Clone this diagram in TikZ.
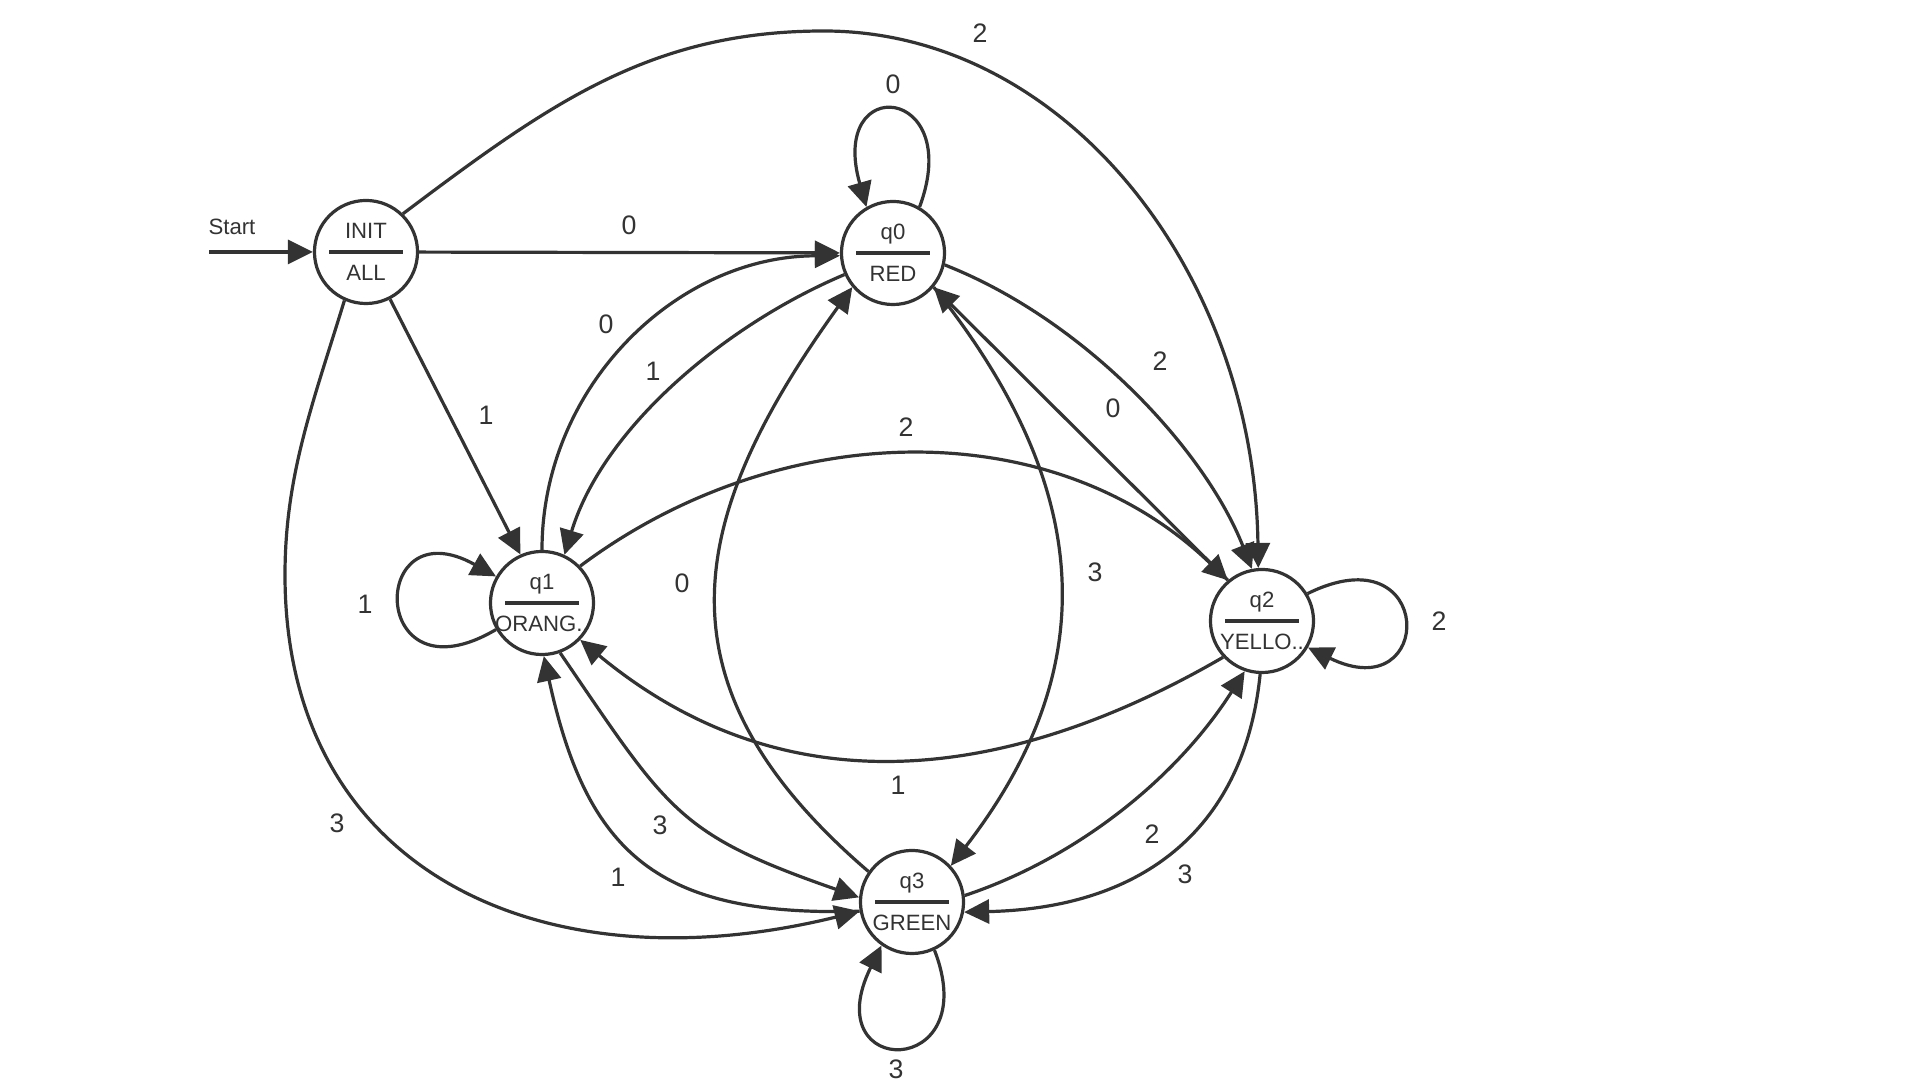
\documentclass[tikz,border=0pt]{standalone}
\usepackage{fontspec}
\setmainfont{Liberation Sans}
\usepackage{tikz}
\usetikzlibrary{arrows.meta,calc}
\definecolor{ink}{HTML}{333333}

\tikzset{
  state/.style={circle, draw=ink, fill=white, line width=0.032cm, minimum size=1.03cm, inner sep=0pt},
  divider/.style={draw=ink, line width=0.032cm},
  stxt/.style={text=ink, font=\fontsize{6.3}{7}\selectfont, inner sep=0pt, anchor=base},
  lbl/.style={text=ink, font=\fontsize{7.6}{9}\selectfont, inner sep=0pt},
  trans/.style={draw=ink, line width=0.032cm, -{Triangle[length=0.25cm,width=0.24cm]}},
}

% a state: name, x, y, upper text, lower text
\newcommand{\fsmstate}[5]{%
  \node[state] (#1) at (#2,#3) {};
  \draw[divider] ($(#1)+(-37,0)$) -- ($(#1)+(37,0)$);
  \node[stxt] (#1-up) at ($(#1)+(0,-13)$) {#4};
  \node[stxt] (#1-dn) at ($(#1)+(0,29)$) {#5};
}

\begin{document}
\begin{tikzpicture}[x=0.01cm,y=-0.01cm]
    \useasboundingbox (0,0) rectangle (1920,1080);

%the states
    \fsmstate{init}{366}{252}{INIT}{ALL}
    \fsmstate{q0}{893}{253}{q0}{RED}
    \fsmstate{q1}{542}{603}{q1}{ORANG..}
    \fsmstate{q2}{1262}{621}{q2}{YELLO..}
    \fsmstate{q3}{912}{902}{q3}{GREEN}

%the start arrow
    \coordinate (start) at (209,252);
    \node[stxt, anchor=center] (starttxt) at (232,227) {Start};
    \draw[trans] (start) -- (init);

%out of INIT
    \draw[trans] (init) -- (q0);
    \draw[trans] (init.297) -- (q1.114);
    \draw[trans] (init.46) .. controls (549,104) and (650,31) .. (824,31) .. controls (1064,31) and (1254,271) .. (q2.94);
    \draw[trans] (init.246) .. controls (313,403) and (285,475) .. (285,575) .. controls (285,870) and (540,990) .. (q3.190);

%the loops
    \draw[trans] (q0.60) .. controls (965,85) and (828,72) .. (q0.120);
    \draw[trans] (q1.210) .. controls (368,705) and (368,505) .. (q1.150);
    \draw[trans] (q2.31) .. controls (1436,530) and (1436,710) .. (q2.330);
    \draw[trans] (q3.295) .. controls (985,1080) and (815,1080) .. (q3.235);

%between the colours
    \draw[trans] (q1.90) .. controls (542,388) and (675,256) .. (q0.183);
    \draw[trans] (q0.204) .. controls (725,325) and (603,428) .. (q1.65);
    \draw[trans] (q3.145) .. controls (650,684) and (686,518) .. (q0.220);
    \draw[trans] (q0.320) .. controls (1092,485) and (1106,665) .. (q3.43);
    \draw[trans] (q0.347) .. controls (1085,320) and (1205,450) .. (q2.101);
    \draw[trans] (q2.130) -- (q0.320);
    \draw[trans] (q1.44) .. controls (778,418) and (1052,411) .. (q2.130);
    \draw[trans] (q2.223) .. controls (1029,770) and (799,821) .. (q1.316);
    \draw[trans] (q1.290) .. controls (669,812) and (677,834) .. (q3.175);
    \draw[trans] (q3.190) .. controls (658,917) and (587,854) .. (q1.272);
    \draw[trans] (q3.7) .. controls (1080,857) and (1178,776) .. (q2.251);
    \draw[trans] (q2.268) .. controls (1245,825) and (1147,908) .. (q3.349);

%the inputs
    \foreach \nm/\x/\y/\t in {init-q0/629/225/0, init-q2/980/33/2, init-q1/486/415/1, init-q3/337/823/3,
        q0-q0/893/84/0, q1-q0/606/324/0, q0-q1/653/371/1, q3-q0/682/583/0, q0-q3/1095/572/3,
        q0-q2/1160/361/2, q2-q0/1113/408/0, q1-q2/906/427/2, q2-q1/898/785/1, q1-q1/365/604/1,
        q2-q2/1439/621/2, q1-q3/660/825/3, q3-q1/618/877/1, q3-q2/1152/834/2, q2-q3/1185/874/3,
        q3-q3/896/1069/3}
    \node[lbl] (l-\nm) at (\x,\y) {\t};
\end{tikzpicture}
\end{document}
